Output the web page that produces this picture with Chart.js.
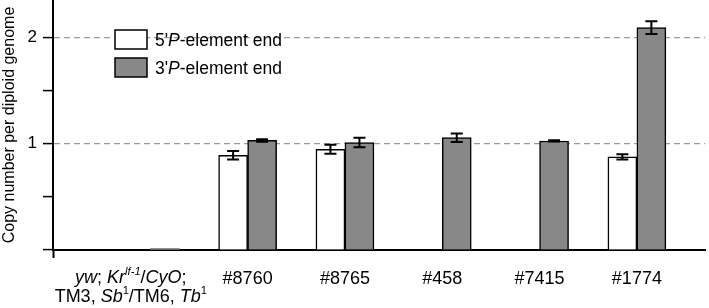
<!DOCTYPE html>
<html>
<head>
  <title>Copy number per diploid genome</title>
  <script src="https://cdn.jsdelivr.net/npm/chart.js"></script>
  <style>
    html, body { margin: 0; padding: 0; background: #fff; }
    #wrap { width: 709px; height: 308px; }
  </style>
</head>
<body>
  <div id="wrap"><canvas id="copyChart"></canvas></div>

  <script>
    // categories (first one is drawn as rich text by a plugin)
    const categories = ['control', '#8760', '#8765', '#458', '#7415', '#1774'];
    const fivePrime = [null, 0.89, 0.947, null, null, 0.875];
    const fivePrimeErr = [null, 0.04, 0.042, null, null, 0.025];
    const threePrime = [0.015, 1.03, 1.01, 1.056, 1.025, 2.09];
    const threePrimeErr = [null, 0.012, 0.045, 0.04, 0.006, 0.06];
    const yTickLabels = { 1: '1', 2: '2' };

    const FONT = "'Liberation Sans', Arial, sans-serif";

    // draw a run of text pieces, some italic / superscript
    function drawRich(ctx, parts, cx, y, size) {
      const fontFor = p => (p.i ? 'italic ' : '') + (p.sup ? size * 0.62 : size) + 'px ' + FONT;
      let w = 0;
      parts.forEach(p => { ctx.font = fontFor(p); w += ctx.measureText(p.t).width; });
      let x = cx === null ? 0 : cx - w / 2;
      return { width: w, draw: (left) => {
        let xx = left !== undefined ? left : x;
        ctx.textBaseline = 'alphabetic';
        ctx.textAlign = 'left';
        parts.forEach(p => {
          ctx.font = fontFor(p);
          ctx.fillText(p.t, xx, p.sup ? y - size * 0.42 : y);
          xx += ctx.measureText(p.t).width;
        });
      }};
    }

    const richLabels = {
      id: 'richLabels',
      afterDraw(chart) {
        const ctx = chart.ctx;
        const xs = chart.scales.x;
        const cx = xs.getPixelForValue(-0.2);
        ctx.save();
        ctx.fillStyle = '#000';
        drawRich(ctx, [
          { t: 'yw', i: true }, { t: '; ' }, { t: 'Kr', i: true }, { t: 'lf-1', i: true, sup: true },
          { t: '/' }, { t: 'CyO', i: true }, { t: ';' }
        ], cx, 283, 18).draw();
        drawRich(ctx, [
          { t: 'TM3, ' }, { t: 'Sb', i: true }, { t: '1', sup: true }, { t: '/TM6, ' },
          { t: 'Tb', i: true }, { t: '1', sup: true }
        ], cx, 302, 18).draw();

        // legend
        const items = [
          { color: '#ffffff', parts: [{ t: "5'" }, { t: 'P', i: true }, { t: '-element end' }] },
          { color: '#888888', parts: [{ t: "3'" }, { t: 'P', i: true }, { t: '-element end' }] }
        ];
        items.forEach((it, k) => {
          const top = 30 + k * 28;
          ctx.fillStyle = it.color;
          ctx.fillRect(115, top, 32, 19);
          ctx.lineWidth = 1.5;
          ctx.strokeStyle = '#000';
          ctx.strokeRect(115, top, 32, 19);
          ctx.fillStyle = '#000';
          drawRich(ctx, it.parts, null, top + 16, 17.5).draw(155);
        });
        ctx.restore();
      }
    };

    const errorBars = {
      id: 'errorBars',
      afterDatasetsDraw(chart) {
        const ctx = chart.ctx;
        const ys = chart.scales.y;
        const errs = [fivePrimeErr, threePrimeErr];
        const vals = [fivePrime, threePrime];
        ctx.save();
        ctx.strokeStyle = '#000';
        ctx.lineWidth = 2;
        chart.data.datasets.forEach((ds, d) => {
          chart.getDatasetMeta(d).data.forEach((bar, i) => {
            const e = errs[d][i];
            if (e === null || vals[d][i] === null) return;
            const yHi = ys.getPixelForValue(vals[d][i] + e);
            const yLo = ys.getPixelForValue(vals[d][i] - e);
            ctx.beginPath();
            ctx.moveTo(bar.x, yHi); ctx.lineTo(bar.x, yLo);
            ctx.moveTo(bar.x - 6, yHi); ctx.lineTo(bar.x + 6, yHi);
            ctx.moveTo(bar.x - 6, yLo); ctx.lineTo(bar.x + 6, yLo);
            ctx.stroke();
          });
        });
        ctx.restore();
      }
    };

    const toPoints = arr => arr.map((v, i) => ({ x: i, y: v }));

    new Chart(document.getElementById('copyChart'), {
      type: 'bar',
      data: {
        datasets: [
          {
            label: "5' P-element end",
            data: toPoints(fivePrime),
            backgroundColor: '#ffffff',
            borderColor: '#000',
            borderWidth: 1.5,
            barThickness: 29
          },
          {
            label: "3' P-element end",
            data: toPoints(threePrime),
            backgroundColor: '#888888',
            borderColor: '#000',
            borderWidth: threePrime.map((v, i) => i === 0 ? 0 : 1.5),
            barThickness: 29
          }
        ]
      },
      options: {
        responsive: true,
        maintainAspectRatio: false,
        animation: false,
        layout: { padding: { top: 0, right: 4, left: 0, bottom: 0 } },
        plugins: { legend: { display: false }, tooltip: { enabled: false } },
        scales: {
          x: {
            type: 'linear',
            min: -1,
            max: 5.7,
            offset: false,
            afterBuildTicks: s => { s.ticks = [-1, 0, 1, 2, 3, 4, 5].map(v => ({ value: v })); },
            afterFit: s => { s.height = 58; s.paddingLeft = 0; s.paddingRight = 0; },
            ticks: {
              font: { family: FONT, size: 18 },
              color: '#000',
              padding: 10,
              maxRotation: 0,
              autoSkip: false,
              callback: v => (v >= 1 ? categories[v] : '')
            },
            grid: {
              offset: false,
              drawOnChartArea: false,
              tickLength: 8,
              tickWidth: 2,
              tickColor: c => (c.tick && c.tick.value === -1 ? '#000' : 'rgba(0,0,0,0)')
            },
            border: { color: '#000', width: 2 }
          },
          y: {
            min: 0,
            max: 2.35,
            afterFit: s => { s.width = 53; s.paddingTop = 0; s.paddingBottom = 0; },
            ticks: {
              stepSize: 0.5,
              includeBounds: false,
              font: { family: FONT, size: 17 },
              color: '#000',
              padding: 6,
              callback: v => yTickLabels[v] || ''
            },
            grid: {
              tickLength: 10,
              tickWidth: 1.5,
              tickColor: '#000',
              color: c => (c.tick && (c.tick.value === 1 || c.tick.value === 2) ? '#9a9a9a' : 'rgba(0,0,0,0)'),
              lineWidth: 1.2
            },
            border: { color: '#000', width: 2, dash: [6, 4] },
            title: {
              display: true,
              text: 'Copy number per diploid genome',
              font: { family: FONT, size: 16 },
              color: '#000',
              padding: { top: 0, bottom: 0 }
            }
          }
        }
      },
      plugins: [errorBars, richLabels]
    });
  </script>
</body>
</html>
